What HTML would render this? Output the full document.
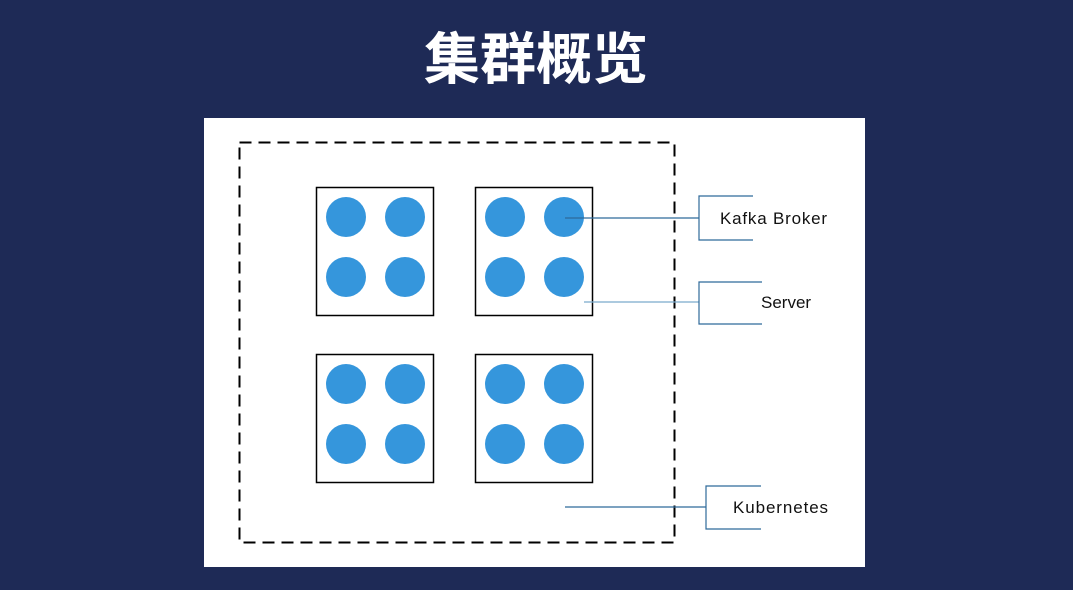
<!DOCTYPE html>
<html><head><meta charset="utf-8"><style>
html,body{margin:0;padding:0;width:1073px;height:590px;overflow:hidden;background:#1e2a56;}
</style></head><body>
<svg width="1073" height="590" xmlns="http://www.w3.org/2000/svg">
<rect width="1073" height="590" fill="#1e2a56"/>
<text x="536" y="79" text-anchor="middle" font-family="'Liberation Sans','Noto Sans CJK SC',sans-serif" font-weight="bold" font-size="56" fill="#fff">集群概览</text>
<rect x="204" y="118" width="661" height="449" fill="#fff"/>
<rect x="239.5" y="142.5" width="435" height="400" fill="none" stroke="#000" stroke-width="2" stroke-dasharray="12,7"/>
<g stroke="#000" stroke-width="1.5" fill="#fff">
<rect x="316.5" y="187.5" width="117" height="128"/>
<rect x="475.5" y="187.5" width="117" height="128"/>
<rect x="316.5" y="354.5" width="117" height="128"/>
<rect x="475.5" y="354.5" width="117" height="128"/>
</g>
<g fill="#3596dc">
<circle cx="346" cy="217" r="20"/><circle cx="405" cy="217" r="20"/><circle cx="346" cy="277" r="20"/><circle cx="405" cy="277" r="20"/>
<circle cx="505" cy="217" r="20"/><circle cx="564" cy="217" r="20"/><circle cx="505" cy="277" r="20"/><circle cx="564" cy="277" r="20"/>
<circle cx="346" cy="384" r="20"/><circle cx="405" cy="384" r="20"/><circle cx="346" cy="444" r="20"/><circle cx="405" cy="444" r="20"/>
<circle cx="505" cy="384" r="20"/><circle cx="564" cy="384" r="20"/><circle cx="505" cy="444" r="20"/><circle cx="564" cy="444" r="20"/>
</g>
<g stroke="#2f6a9a" stroke-width="1.2" fill="none">
<line x1="565" y1="218" x2="699" y2="218"/>
<polyline points="753,196 699,196 699,240 753,240"/>
<line x1="584" y1="302" x2="699" y2="302" stroke="#7aaacc"/>
<polyline points="762,282 699,282 699,324 762,324"/>
<line x1="565" y1="507" x2="706" y2="507"/>
<polyline points="761,486 706,486 706,529 761,529"/>
</g>
<g font-family="'Liberation Sans',sans-serif" font-size="17" fill="#111">
<text x="720" y="224" letter-spacing="0.8">Kafka Broker</text>
<text x="761" y="308">Server</text>
<text x="733" y="513" letter-spacing="0.9">Kubernetes</text>
</g>
</svg>
</body></html>
